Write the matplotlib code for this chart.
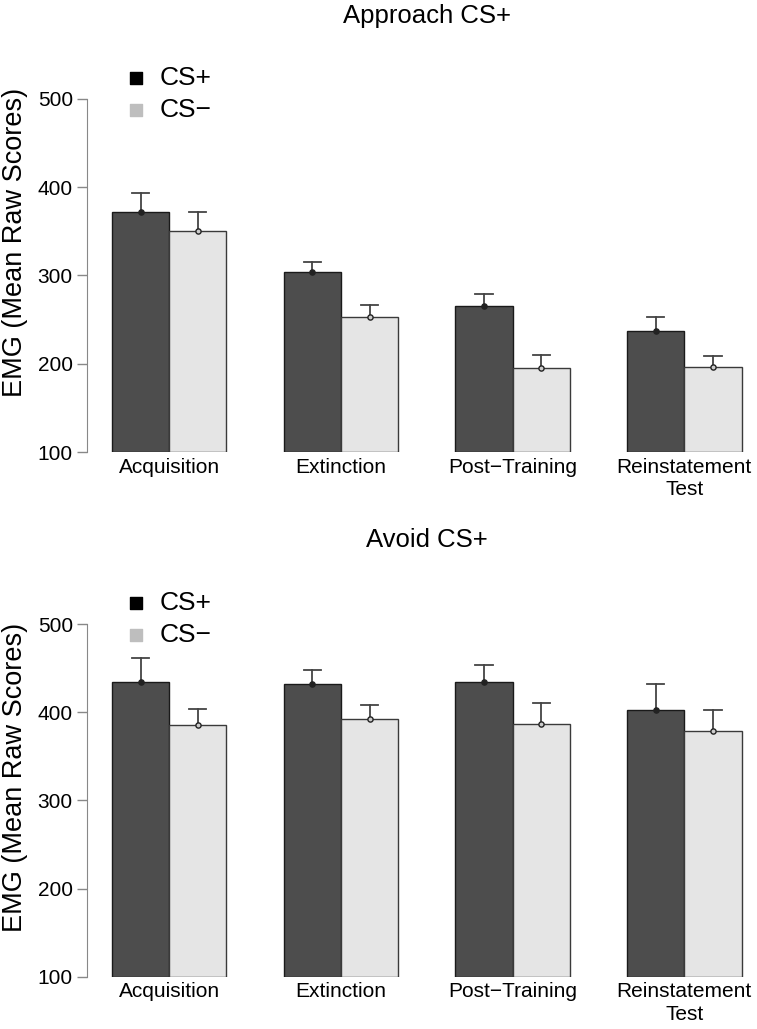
import matplotlib
matplotlib.use("Agg")
import matplotlib.pyplot as plt
import numpy as np

plt.rcParams["font.family"] = ["Liberation Sans", "DejaVu Sans"]

# 数据：各阶段 CS+ / CS− 的均值与误差上沿
PHASES = ["Acquisition", "Extinction", "Post\u2212Training", "Reinstatement\nTest"]

APPROACH_CSP = [372, 304, 265, 237]
APPROACH_CSP_ERR = [393, 315, 279, 253]
APPROACH_CSM = [350, 253, 195, 196]
APPROACH_CSM_ERR = [372, 267, 210, 209]

AVOID_CSP = [434, 432, 434, 403]
AVOID_CSP_ERR = [461, 448, 453, 432]
AVOID_CSM = [385, 392, 387, 379]
AVOID_CSM_ERR = [404, 408, 410, 402]

COLOR_CSP = "#4d4d4d"
COLOR_CSM = "#e5e5e5"
W, H = 757, 1029


def draw_panel(ax, csp, csp_err, csm, csm_err):
    pos_p = np.arange(len(PHASES)) * 3 + 1.5
    pos_m = pos_p + 1
    ax.bar(pos_p, np.array(csp) - 100, bottom=100, width=1, color=COLOR_CSP,
           edgecolor="#1a1a1a", linewidth=1)
    ax.bar(pos_m, np.array(csm) - 100, bottom=100, width=1, color=COLOR_CSM,
           edgecolor="#3a3a3a", linewidth=1)
    for pos, vals, errs, face in [(pos_p, csp, csp_err, "#222222"), (pos_m, csm, csm_err, "#cccccc")]:
        for x, v, e in zip(pos, vals, errs):
            ax.plot([x, x], [v, e], color="#444444", lw=1.3, zorder=3)
            ax.plot([x - 0.15, x + 0.15], [e, e], color="#444444", lw=1.3, zorder=3)
        ax.scatter(pos, vals, s=14, facecolor=face, edgecolor="#222222", linewidth=1, zorder=4)

    ax.set_ylim(100, 500)
    ax.set_xlim(0.559, 12.27)
    ax.set_yticks([100, 200, 300, 400, 500])
    ax.tick_params(axis="y", labelsize=15, length=7, width=1, color="#888888", pad=3)
    ax.set_xticks(pos_p + 0.5)
    ax.set_xticklabels(PHASES, fontsize=15, linespacing=1.25)
    ax.tick_params(axis="x", length=0, pad=4)
    for side in ["top", "right", "bottom"]:
        ax.spines[side].set_visible(False)
    ax.spines["left"].set_color("#888888")

    # 图例：方块 + 文字
    ax.scatter([1.42], [524], marker="s", s=75, color="black", clip_on=False)
    ax.scatter([1.42], [488], marker="s", s=75, color="#bebebe", clip_on=False)
    ax.text(1.84, 524, "CS+", fontsize=19, va="center", ha="left")
    ax.text(1.84, 488, "CS\u2212", fontsize=19, va="center", ha="left")


fig = plt.figure(figsize=(W / 100, H / 100), dpi=100)
left = 86.7 / W
width = 1 - left

ax1 = fig.add_axes([left, 1 - 452 / H, width, 353 / H])
draw_panel(ax1, APPROACH_CSP, APPROACH_CSP_ERR, APPROACH_CSM, APPROACH_CSM_ERR)
ax2 = fig.add_axes([left, 1 - 976.7 / H, width, 352.7 / H])
draw_panel(ax2, AVOID_CSP, AVOID_CSP_ERR, AVOID_CSM, AVOID_CSM_ERR)

fig.text(427 / W, 1 - 23 / H, "Approach CS+", fontsize=18.5, ha="center", va="baseline")
fig.text(427 / W, 1 - 547 / H, "Avoid CS+", fontsize=18.5, ha="center", va="baseline")
fig.text(15 / W, 1 - 242 / H, "EMG (Mean Raw Scores)", fontsize=19.5, rotation=90, ha="center", va="center")
fig.text(15 / W, 1 - 777 / H, "EMG (Mean Raw Scores)", fontsize=19.5, rotation=90, ha="center", va="center")

fig.savefig("out.png", dpi=100)
